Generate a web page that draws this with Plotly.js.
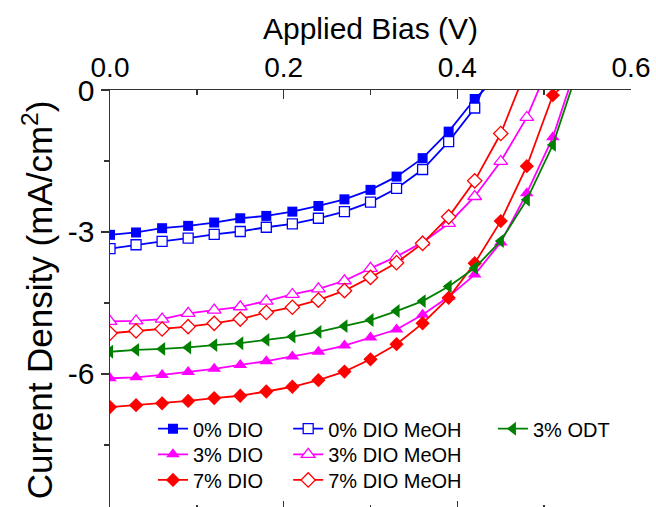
<!DOCTYPE html>
<html>
<head>
<meta charset="utf-8">
<script src="https://cdn.plot.ly/plotly-3.0.1.min.js"></script>
<style>
html, body { margin: 0; padding: 0; overflow: hidden; background: #fff; }
#chart { width: 656px; height: 515px; }
</style>
</head>
<body>
<div id="chart"></div>
<script>
// Applied bias (V)
const voltage = [0, 0.03, 0.06, 0.09, 0.12, 0.15, 0.18, 0.21, 0.24, 0.27, 0.30, 0.33, 0.36, 0.39, 0.42, 0.45, 0.48, 0.51, 0.54];

// Current density (mA/cm^2)
const dio0      = [-3.06, -3.01, -2.92, -2.87, -2.80, -2.71, -2.66, -2.57, -2.45, -2.31, -2.11, -1.83, -1.44, -0.88, -0.19, 0.35];
const dio0MeOH  = [-3.35, -3.27, -3.20, -3.13, -3.05, -2.99, -2.90, -2.83, -2.71, -2.57, -2.37, -2.08, -1.68, -1.09, -0.38, 0.90];
const dio3      = [-6.09, -6.07, -6.02, -5.96, -5.89, -5.81, -5.73, -5.63, -5.53, -5.40, -5.23, -5.06, -4.75, -4.37, -3.90, -3.22, -2.18, -1.00, 0.67];
const dio3MeOH  = [-4.89, -4.88, -4.84, -4.72, -4.65, -4.58, -4.46, -4.32, -4.20, -4.03, -3.77, -3.52, -3.22, -2.82, -2.25, -1.51, -0.58, 0.71];
const dio7      = [-6.70, -6.66, -6.62, -6.57, -6.51, -6.46, -6.37, -6.27, -6.13, -5.95, -5.69, -5.37, -4.93, -4.39, -3.66, -2.77, -1.61, -0.11, 0.40];
const dio7MeOH  = [-5.14, -5.09, -5.05, -5.00, -4.93, -4.84, -4.70, -4.59, -4.44, -4.24, -3.96, -3.65, -3.24, -2.68, -1.92, -0.92, 0.46];
const odt3      = [-5.53, -5.49, -5.47, -5.44, -5.39, -5.35, -5.28, -5.21, -5.11, -4.99, -4.86, -4.67, -4.46, -4.15, -3.76, -3.19, -2.32, -1.16, 0.50];

const seriesNames = ['0% DIO', '0% DIO MeOH', '3% DIO', '3% DIO MeOH', '7% DIO', '7% DIO MeOH', '3% ODT'];

const xTickVals = [0, 0.2, 0.4, 0.6];
const xTickText = ['0.0', '0.2', '0.4', '0.6'];
const yTickVals = [0, -3, -6];
const yTickText = ['0', '-3', '-6'];
const yMinorVals = [-1.5, -4.5, -7.5];

const FONT = 'Arial, "Liberation Sans", sans-serif';

function mk(y, name, color, symbol, open, size, legend) {
  return {
    x: voltage.slice(0, y.length), y: y, name: name, type: 'scatter', mode: 'lines+markers',
    line: { color: color, width: 1.8 },
    marker: {
      symbol: symbol, size: size,
      color: open ? '#ffffff' : color,
      line: { color: color, width: open ? 1.3 : 0 }
    },
    legend: legend, cliponaxis: true
  };
}

const data = [
  mk(dio0, seriesNames[0], '#0000FF', 'square', false, 10, 'legend'),
  mk(dio0MeOH, seriesNames[1], '#0000FF', 'square', true, 10, 'legend2'),
  mk(dio3, seriesNames[2], '#FF00FF', 'triangle-up', false, 12, 'legend4'),
  mk(dio3MeOH, seriesNames[3], '#FF00FF', 'triangle-up', true, 12, 'legend5'),
  mk(dio7, seriesNames[4], '#FF0000', 'diamond', false, 11, 'legend6'),
  mk(dio7MeOH, seriesNames[5], '#FF0000', 'diamond', true, 11, 'legend7'),
  mk(odt3, seriesNames[6], '#008000', 'triangle-left', false, 12, 'legend3')
];

const yRange = [-8.874, 0];
function leg(x, y) {
  return {
    orientation: 'v', yanchor: 'top', xanchor: 'left', x: x, y: y,
    bgcolor: 'rgba(0,0,0,0)', borderwidth: 0,
    font: { family: FONT, size: 20, color: '#000' },
    tracegroupgap: 0
  };
}
const colX = [0.0825, 0.342, 0.735];
const rowY = [0.240, 0.179, 0.118];

const layout = {
  width: 656, height: 515,
  margin: { l: 110, r: 25, t: 90, b: 5 },
  paper_bgcolor: '#fff', plot_bgcolor: '#fff',
  font: { family: FONT, color: '#000' },
  xaxis: {
    side: 'top', range: [0, 0.6],
    tickmode: 'array', tickvals: xTickVals, ticktext: xTickText,
    ticks: 'inside', ticklen: 9, tickwidth: 1.5, tickcolor: '#333',
    minor: { dtick: 0.1, ticks: 'inside', ticklen: 5, tickwidth: 1.5, tickcolor: '#333' },
    showline: true, linecolor: '#333', linewidth: 1.5, mirror: 'ticks',
    showgrid: false, zeroline: false,
    tickfont: { family: FONT, size: 28, color: '#000' },
    title: { text: 'Applied Bias (V)', font: { family: FONT, size: 30, color: '#000' }, standoff: 4 }
  },
  yaxis: {
    range: yRange,
    tickmode: 'array', tickvals: yTickVals, ticktext: yTickText,
    ticks: 'outside', ticklen: 8, tickwidth: 1.5, tickcolor: '#333',
    minor: { tickmode: 'array', tickvals: yMinorVals, ticks: 'outside', ticklen: 5, tickwidth: 1.5, tickcolor: '#333' },
    showline: true, linecolor: '#333', linewidth: 1.5, mirror: false,
    showgrid: false, zeroline: false,
    tickfont: { family: FONT, size: 30, color: '#000' },
    title: { text: 'Current Density (mA/cm<sup>2</sup>)', font: { family: FONT, size: 35, color: '#000' }, standoff: 4 }
  },
  yaxis2: {
    overlaying: 'y', side: 'right', range: yRange,
    tickmode: 'array', tickvals: yTickVals, showticklabels: false,
    ticks: 'inside', ticklen: 8, tickwidth: 1.5, tickcolor: '#333',
    minor: { tickmode: 'array', tickvals: yMinorVals, ticks: 'inside', ticklen: 5, tickwidth: 1.5, tickcolor: '#333' },
    showline: true, linecolor: '#333', linewidth: 1.5,
    showgrid: false, zeroline: false
  },
  showlegend: true,
  legend:  leg(colX[0], rowY[0]),
  legend2: leg(colX[1], rowY[0]),
  legend3: leg(colX[2], rowY[0]),
  legend4: leg(colX[0], rowY[1]),
  legend5: leg(colX[1], rowY[1]),
  legend6: leg(colX[0], rowY[2]),
  legend7: leg(colX[1], rowY[2])
};

Plotly.newPlot('chart', data, layout, { displayModeBar: false, staticPlot: true });
</script>
</body>
</html>
